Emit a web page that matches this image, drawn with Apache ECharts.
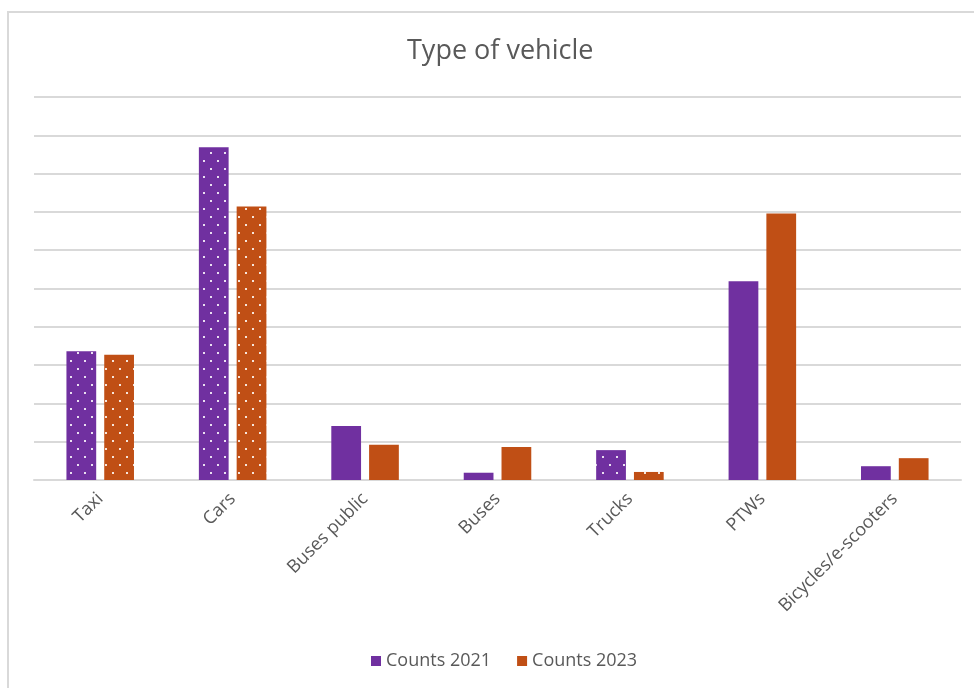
<!DOCTYPE html>
<html>
<head>
<meta charset="utf-8">
<script src="https://cdn.jsdelivr.net/npm/echarts@6/dist/echarts.min.js"></script>
<style>html,body{margin:0;padding:0;background:#fff}#c{width:974px;height:688px}</style>
</head>
<body>
<div id="c"></div>
<script>
var categories = ['Taxi', 'Cars', 'Buses public', 'Buses', 'Trucks', 'PTWs', 'Bicycles/e-scooters'];
var counts2021 = [3.36, 8.69, 1.41, 0.19, 0.78, 5.19, 0.36];
var counts2023 = [3.27, 7.14, 0.92, 0.86, 0.21, 6.96, 0.57];
var dotted = [true, true, false, false, true, false, false];
var seriesNames = ['Counts 2021', 'Counts 2023'];

var decal = {
  symbol: 'rect',
  symbolSize: 1,
  color: 'rgba(255,255,255,0.85)',
  dashArrayX: [[1.7, 11.6], [0, 6.65, 1.7, 4.95]],
  dashArrayY: [1.7, 5.3],
  rotation: 0
};
function build(vals) {
  return vals.map(function (v, i) {
    return dotted[i] ? { value: v, itemStyle: { decal: decal } } : v;
  });
}

var chart = echarts.init(document.getElementById('c'));
chart.setOption({
  backgroundColor: '#ffffff',
  animation: false,
  aria: { enabled: true, decal: { show: false } },
  graphic: [{
    type: 'rect', silent: true,
    shape: { x: 8, y: 12, width: 1200, height: 1200 },
    style: { fill: 'none', stroke: '#d9d9d9', lineWidth: 2 }
  }],
  title: {
    text: 'Type of vehicle', left: 402, top: 33,
    textStyle: { fontFamily: 'Open Sans', fontSize: 27, fontWeight: 'normal', color: '#595959' }
  },
  legend: {
    bottom: 13, left: 366, itemWidth: 10, itemHeight: 10, itemGap: 26,
    icon: 'rect',
    textStyle: { fontFamily: 'Open Sans', fontSize: 18, color: '#595959' },
    data: seriesNames
  },
  grid: { left: 34, right: 13, top: 97, bottom: 208, containLabel: false },
  xAxis: {
    type: 'category', data: categories,
    axisLine: { lineStyle: { color: '#d9d9d9', width: 2 } },
    axisTick: { show: false },
    axisLabel: { rotate: 45, margin: 16, interval: 0, fontFamily: 'Open Sans', fontSize: 18, color: '#595959' }
  },
  yAxis: {
    type: 'value', min: 0, max: 10, interval: 1,
    axisLabel: { show: false }, axisLine: { show: false }, axisTick: { show: false },
    splitLine: { lineStyle: { color: '#d9d9d9', width: 2 } }
  },
  series: [
    { name: seriesNames[0], type: 'bar', data: build(counts2021), barGap: '27%', barCategoryGap: '49%',
      itemStyle: { color: '#7030a0' } },
    { name: seriesNames[1], type: 'bar', data: build(counts2023), barGap: '27%', barCategoryGap: '49%',
      itemStyle: { color: '#c04f15' } }
  ]
});
</script>
</body>
</html>
